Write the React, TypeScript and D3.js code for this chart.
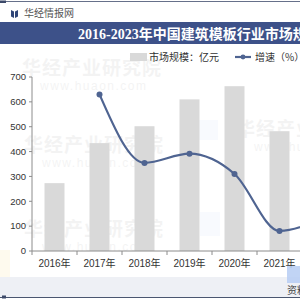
import React from "react";
import * as d3 from "d3";

// 数据（单位：亿元 / %），2022-2023 在截图外
const years = ["2016年", "2017年", "2018年", "2019年", "2020年", "2021年", "2022年", "2023年"];
const marketSize = [273, 434, 502, 610, 663, 482, 395, 410];
const growth: (number | null)[] = [null, 59, 15.7, 21.5, 8.7, -27.3, -18, 3.8];
const leftTicks = [0, 100, 200, 300, 400, 500, 600, 700];

const W = 300;
const H = 300;
const lineColor = "#4f6491";
const sans = "'Liberation Sans', Arial, 'Noto Sans CJK SC', sans-serif";
const cjk = "'Noto Sans CJK SC', sans-serif";

function Watermark({ x, y }: { x: number; y: number }) {
  return (
    <g opacity={0.045} fill="#000">
      <text x={x} y={y} fontSize={19} fontWeight="bold" fontFamily={cjk} letterSpacing={1}>
        华经产业研究院
      </text>
      <text x={x + 18} y={y + 15} fontSize={12} fontFamily={sans} letterSpacing={1.5}>
        www.huaon.com
      </text>
    </g>
  );
}

export default function App() {
  const plotLeft = 32;
  const step = 45;
  const x = d3
    .scaleBand<string>()
    .domain(years)
    .range([plotLeft, plotLeft + step * years.length])
    .paddingInner(0.556)
    .paddingOuter(0.278);
  const yLeft = d3.scaleLinear().domain([0, 700]).range([251, 77]);
  const yRight = d3.scaleLinear().domain([-40, 70]).range([251, 77]);

  const pts = years.map((yr, i) => ({ yr, v: growth[i] }));
  const cx = (yr: string) => (x(yr) ?? 0) + x.bandwidth() / 2;
  const line = d3
    .line<{ yr: string; v: number | null }>()
    .defined((d) => d.v !== null)
    .x((d) => cx(d.yr))
    .y((d) => yRight(d.v as number))
    .curve(d3.curveMonotoneX);

  const baseY = yLeft(0);

  return (
    <svg
      width={W}
      height={H}
      style={{ position: "fixed", left: 0, top: 0, background: "#fff" }}
    >
      {/* 顶部细线 */}
      <rect x={0} y={1} width={W} height={1} fill="#66708a" />
      <rect x={0} y={0.5} width={6} height={2.5} fill="#3d4a6a" />

      {/* logo */}
      <path d="M11,10 L14,11.5 L14,18 L11,16.5 Z M15,11.5 L18,10 L18,16.5 L15,18 Z" fill="#2f4578" />
      <text x={24} y={17} fontSize={10} fill="#555" fontFamily={cjk}>
        华经情报网
      </text>

      {/* 标题栏 */}
      <rect x={0} y={22} width={W} height={22} fill="#3d5189" />
      <text
        x={78}
        y={39}
        fontSize={14}
        fontWeight="bold"
        fill="#fff"
        fontFamily={"'Liberation Serif', 'Noto Sans CJK SC', serif"}
      >
        2016-2023年中国建筑模板行业市场规模及增速
      </text>

      {/* 水印 */}
      <Watermark x={22} y={75} />
      <Watermark x={24} y={152} />
      <Watermark x={24} y={236} />
      <Watermark x={236} y={136} />
      <rect x={196} y={120} width={22} height={20} fill="#c8d8f5" opacity={0.12} />
      <rect x={200} y={212} width={20} height={24} fill="#c8d8f5" opacity={0.12} />
      <rect x={0} y={250} width={10} height={30} fill="#fbeec8" opacity={0.3} />

      {/* 图例 */}
      <rect x={130} y={53} width={17} height={8} fill="#d9d9d9" />
      <text x={149} y={61} fontSize={10} fill="#333" fontFamily={cjk}>
        市场规模：亿元
      </text>
      <line x1={235} x2={251} y1={57} y2={57} stroke={lineColor} strokeWidth={2.2} />
      <circle cx={243} cy={57} r={2.4} fill={lineColor} />
      <text x={255} y={61} fontSize={10} fill="#333" fontFamily={cjk}>
        增速（%）
      </text>

      {/* 柱 */}
      {years.map((yr, i) => (
        <rect
          key={yr}
          x={x(yr)}
          y={yLeft(marketSize[i])}
          width={x.bandwidth()}
          height={baseY - yLeft(marketSize[i])}
          fill="#d9d9d9"
        />
      ))}

      {/* 左轴 */}
      <line x1={plotLeft} x2={plotLeft} y1={yLeft(700)} y2={baseY} stroke="#8c8c8c" />
      {leftTicks.map((t) => (
        <g key={t} transform={`translate(0,${yLeft(t)})`}>
          <line x1={plotLeft - 3} x2={plotLeft} stroke="#8c8c8c" />
          <text
            x={plotLeft - 6}
            dy="0.35em"
            textAnchor="end"
            fontSize={9.5}
            fill="#333"
            fontFamily={sans}
          >
            {t}
          </text>
        </g>
      ))}

      {/* x 轴 */}
      <line x1={plotLeft} x2={plotLeft + step * years.length} y1={baseY} y2={baseY} stroke="#8c8c8c" />
      {d3.range(years.length + 1).map((i) => (
        <line
          key={i}
          x1={plotLeft + i * step}
          x2={plotLeft + i * step}
          y1={baseY}
          y2={baseY + 4}
          stroke="#8c8c8c"
        />
      ))}
      {years.map((yr) => (
        <text key={yr} x={cx(yr)} y={267} textAnchor="middle" fontSize={10} fill="#333" fontFamily={sans}>
          {yr}
        </text>
      ))}

      {/* 增速折线 */}
      <path d={line(pts) ?? ""} fill="none" stroke={lineColor} strokeWidth={2.2} />
      {pts
        .filter((d) => d.v !== null)
        .map((d) => (
          <circle key={d.yr} cx={cx(d.yr)} cy={yRight(d.v as number)} r={3} fill={lineColor} />
        ))}

      {/* 底部 */}
      <rect x={0} y={277} width={W} height={20} fill="#eef0f5" />
      <rect x={0} y={297} width={W} height={1} fill="#4a5670" />
      <rect x={2} y={295.5} width={4} height={3} fill="#3d4a6a" />
      <rect x={287} y={266} width={13} height={17} fill="#b6ccf3" opacity={0.85} />
      <text x={287} y={294} fontSize={10} fill="#444" fontFamily={cjk}>
        资料来源：华经产业研究院
      </text>
    </svg>
  );
}
